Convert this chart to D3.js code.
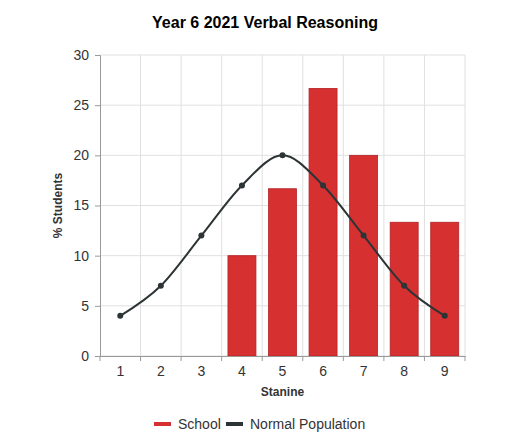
<!DOCTYPE html>
<html>
<head>
<meta charset="utf-8">
<script src="https://cdn.jsdelivr.net/npm/d3@7"></script>
<style>
  body { margin: 0; background: #fff; }
  svg { font-family: Arial, "Liberation Sans", sans-serif; }
</style>
</head>
<body>
<svg id="chart" width="530" height="447"></svg>
<script>
const stanines = ["1", "2", "3", "4", "5", "6", "7", "8", "9"];
const school = [0, 0, 0, 10, 16.67, 26.67, 20, 13.33, 13.33];
const normalPop = [4, 7, 12, 17, 20, 17, 12, 7, 4];
const yTicks = [0, 5, 10, 15, 20, 25, 30];

const margin = { top: 55, right: 65, bottom: 91, left: 100 };
const width = 530, height = 447;
const innerW = width - margin.left - margin.right;
const innerH = height - margin.top - margin.bottom;

const svg = d3.select("#chart");

// title
svg.append("text")
  .attr("x", 265).attr("y", 28)
  .attr("text-anchor", "middle")
  .style("font-size", "16px").style("font-weight", "bold")
  .text("Year 6 2021 Verbal Reasoning");

const g = svg.append("g").attr("transform", `translate(${margin.left},${margin.top})`);

const x = d3.scaleBand().domain(stanines).range([0, innerW]).paddingInner(0.31).paddingOuter(0.155);
const xBound = d3.scaleLinear().domain([0, 9]).range([0, innerW]);
const y = d3.scaleLinear().domain([0, 30]).range([innerH, 0]);

// grid
g.append("g").selectAll("line").data(yTicks).join("line")
  .attr("x1", 0).attr("x2", innerW)
  .attr("y1", d => y(d)).attr("y2", d => y(d))
  .attr("stroke", "#e0e0e0");
g.append("g").selectAll("line").data(d3.range(1, 10)).join("line")
  .attr("x1", d => xBound(d)).attr("x2", d => xBound(d))
  .attr("y1", 0).attr("y2", innerH)
  .attr("stroke", "#e0e0e0");

// bars
g.append("g").selectAll("rect").data(school).join("rect")
  .attr("x", (d, i) => x(stanines[i]))
  .attr("y", d => y(d))
  .attr("width", x.bandwidth())
  .attr("height", d => innerH - y(d))
  .attr("fill", "#d63031")
  .attr("stroke", "#b32225")
  .attr("stroke-width", 0.8)
  .style("display", d => d > 0 ? null : "none");

// axes
const yAxis = g.append("g").call(d3.axisLeft(y).tickValues(yTicks).tickSize(5).tickPadding(6));
const xAxis = g.append("g").attr("transform", `translate(0,${innerH})`)
  .call(d3.axisBottom(x).tickSize(0).tickPadding(10));
g.append("g").attr("transform", `translate(0,${innerH})`).selectAll("line")
  .data(d3.range(0, 10)).join("line")
  .attr("x1", d => xBound(d)).attr("x2", d => xBound(d))
  .attr("y1", 0).attr("y2", 5)
  .attr("stroke", "#999");
[yAxis, xAxis].forEach(a => {
  a.select(".domain").attr("stroke", "#999");
  a.selectAll(".tick line").attr("stroke", "#999");
  a.selectAll("text").style("font-size", "14px").attr("fill", "#333").style("font-family", "Arial, 'Liberation Sans', sans-serif");
});

// normal population line
const line = d3.line()
  .x((d, i) => x(stanines[i]) + x.bandwidth() / 2)
  .y(d => y(d))
  .curve(d3.curveMonotoneX);
g.append("path").datum(normalPop)
  .attr("d", line)
  .attr("fill", "none")
  .attr("stroke", "#2d3436")
  .attr("stroke-width", 2);
g.append("g").selectAll("circle").data(normalPop).join("circle")
  .attr("cx", (d, i) => x(stanines[i]) + x.bandwidth() / 2)
  .attr("cy", d => y(d))
  .attr("r", 3)
  .attr("fill", "#2d3436");

// axis titles
svg.append("text")
  .attr("x", margin.left + innerW / 2).attr("y", 396)
  .attr("text-anchor", "middle")
  .style("font-size", "12px").style("font-weight", "bold").attr("fill", "#333")
  .text("Stanine");
svg.append("text")
  .attr("transform", `translate(62,${margin.top + innerH / 2}) rotate(-90)`)
  .attr("text-anchor", "middle")
  .style("font-size", "12px").style("font-weight", "bold").attr("fill", "#333")
  .text("% Students");

// legend
const legend = svg.append("g").attr("transform", "translate(154,424)");
const items = [
  { name: "School", color: "#d63031", x: 0 },
  { name: "Normal Population", color: "#2d3436", x: 72 }
];
items.forEach(it => {
  legend.append("rect").attr("x", it.x).attr("y", -2).attr("width", 17).attr("height", 4).attr("fill", it.color);
  legend.append("text").attr("x", it.x + 24).attr("y", 5)
    .style("font-size", "14px").attr("fill", "#333").text(it.name);
});
</script>
</body>
</html>
